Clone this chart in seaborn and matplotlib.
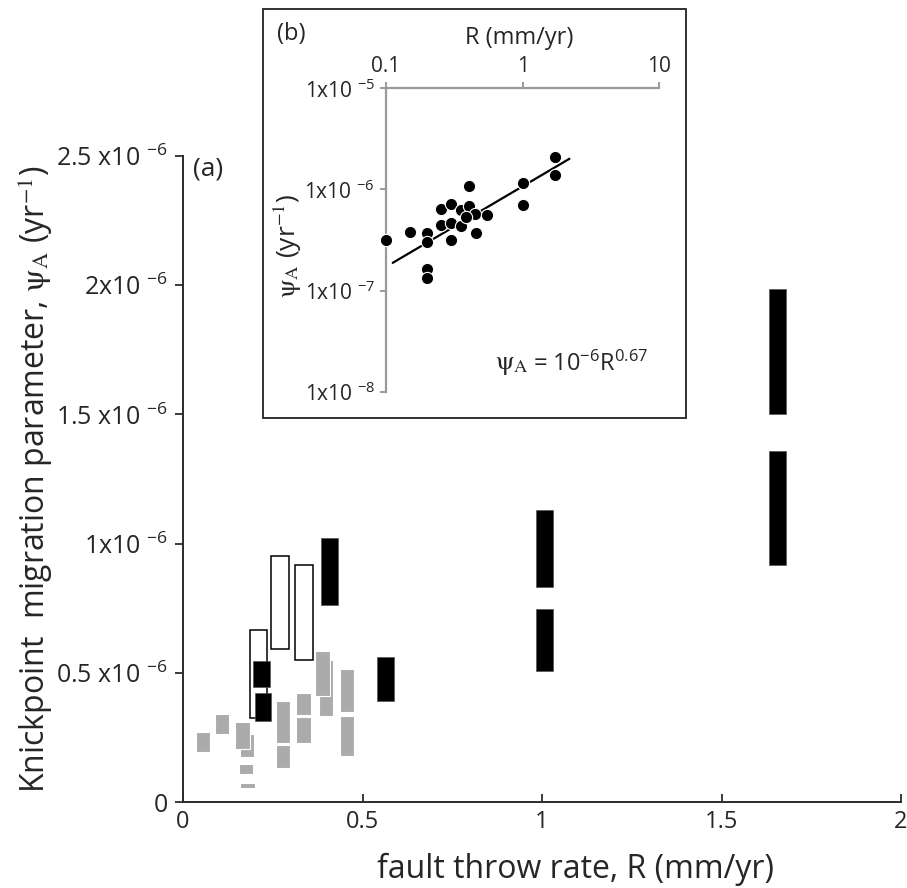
import matplotlib
matplotlib.use('Agg')
import numpy as np
import pandas as pd
import matplotlib.pyplot as plt
from matplotlib.patches import Rectangle
import seaborn as sns

# ---- data (main panel, psi_A in units of 1e-6 / yr) ----
gray_R = [0.056, 0.109, 0.178, 0.166, 0.176, 0.180, 0.279, 0.279, 0.336, 0.336, 0.399, 0.389, 0.457, 0.457]
gray_lo = [0.192, 0.262, 0.173, 0.205, 0.108, 0.053, 0.229, 0.130, 0.337, 0.229, 0.334, 0.411, 0.347, 0.177]
gray_hi = [0.272, 0.342, 0.264, 0.308, 0.148, 0.074, 0.391, 0.222, 0.423, 0.330, 0.550, 0.584, 0.515, 0.334]

open_R = [0.210, 0.270, 0.337]
open_lo = [0.324, 0.593, 0.550]
open_hi = [0.667, 0.951, 0.917]

black_R = [0.219, 0.223, 0.408, 0.565, 1.008, 1.008, 1.655, 1.655]
black_lo = [0.444, 0.315, 0.762, 0.391, 0.831, 0.506, 1.500, 0.916]
black_hi = [0.547, 0.422, 1.021, 0.561, 1.130, 0.746, 1.986, 1.357]

main_yticks = [0, 0.5e-6, 1e-6, 1.5e-6, 2e-6, 2.5e-6]
main_yticklabels = ['0', '0.5 x10 $^{-6}$', '1x10 $^{-6}$', '1.5 x10 $^{-6}$', '2x10 $^{-6}$', '2.5 x10 $^{-6}$']
main_xticks = [0, 0.5, 1, 1.5, 2]
main_xticklabels = ['0', '0.5', '1', '1.5', '2']

# ---- data (inset, log-log) ----
inset_R = [0.100, 0.150, 0.199, 0.199, 0.199, 0.199, 0.252, 0.252, 0.300, 0.300, 0.300,
           0.352, 0.352, 0.407, 0.407, 0.448, 0.458, 0.551, 1.0, 1.0, 1.73, 1.73, 0.384]
inset_psi = [3.17e-7, 3.78e-7, 3.69e-7, 3.0e-7, 1.64e-7, 1.33e-7, 6.44e-7, 4.4e-7, 7.2e-7, 4.64e-7, 3.13e-7,
             6.29e-7, 4.34e-7, 1.08e-6, 6.84e-7, 5.74e-7, 3.69e-7, 5.53e-7, 1.16e-6, 6.95e-7, 2.07e-6, 1.40e-6, 5.3e-7]
fit_R = [0.112, 2.2]
fit_psi = [1.88e-7, 2.01e-6]

inset_xticks = [0.1, 1, 10]
inset_xticklabels = ['0.1', '1', '10']
inset_yticks = [1e-8, 1e-7, 1e-6, 1e-5]
inset_yticklabels = ['1x10 $^{-8}$', '1x10 $^{-7}$', '1x10 $^{-6}$', '1x10 $^{-5}$']

# ---- style ----
sns.set_style('ticks')
plt.rcParams['font.family'] = ['Open Sans', 'DejaVu Sans']
plt.rcParams['mathtext.fontset'] = 'custom'
plt.rcParams['mathtext.rm'] = 'Open Sans'
plt.rcParams['mathtext.it'] = 'Open Sans:italic'
plt.rcParams['mathtext.bf'] = 'Open Sans:bold'
plt.rcParams['mathtext.sf'] = 'Open Sans'

GRAY = '#ababab'
AXC = '#2b2b2b'
INC = '#9a9a9a'
PSI = r'$\mathrm{\psi}_\mathrm{A}$'

fig = plt.figure(figsize=(9.07, 8.88), dpi=100)
ax = fig.add_axes([183 / 907, 1 - 802 / 888, 718 / 907, 646 / 888])

scale = 1e-6
for r, lo, hi in zip(gray_R, gray_lo, gray_hi):
    ax.bar(r, (hi - lo) * scale, bottom=lo * scale, width=0.040, color=GRAY,
           edgecolor='white', linewidth=0.8, zorder=2)
for r, lo, hi in zip(open_R, open_lo, open_hi):
    ax.bar(r, (hi - lo) * scale, bottom=lo * scale, width=0.049, color='white',
           edgecolor='black', linewidth=1.1, zorder=3)
for r, lo, hi in zip(black_R, black_lo, black_hi):
    ax.bar(r, (hi - lo) * scale, bottom=lo * scale, width=0.047, color='black',
           edgecolor='#555555', linewidth=0.5, zorder=4)

ax.set_xlim(0, 2)
ax.set_ylim(0, 2.5e-6)
sns.despine(ax=ax)
for s in ['left', 'bottom']:
    ax.spines[s].set_color(AXC)
    ax.spines[s].set_linewidth(1.4)
ax.set_yticks(main_yticks)
ax.set_yticklabels(main_yticklabels)
ax.set_xticks(main_xticks)
ax.set_xticklabels(main_xticklabels)
ax.tick_params(axis='y', direction='out', length=6, width=1.3, color=AXC, labelsize=18, pad=5)
ax.tick_params(axis='x', direction='in', length=6, width=1.3, color=AXC, labelsize=17, pad=6)
ax.minorticks_off()

ax.set_xlabel('fault throw rate, R (mm/yr)', fontsize=23)
ax.xaxis.set_label_coords(0.546, -0.078)
ax.set_ylabel('Knickpoint  migration parameter, ' + PSI + r' (yr$^{-1}$)',
              fontsize=23, math_fontfamily='stix')
ax.yaxis.set_label_coords(-0.178, 0.5)
ax.text(0.014, 0.98, '(a)', transform=ax.transAxes, fontsize=19, va='center', ha='left')

# ---- inset ----
fig.patches.append(Rectangle((263 / 907, 1 - 418 / 888), (686 - 263) / 907, (418 - 9) / 888,
                             transform=fig.transFigure, fill=True, facecolor='white',
                             edgecolor='#222222', linewidth=1.3, zorder=5))
ax_in = fig.add_axes([386 / 907, 1 - 391.7 / 888, 273.3 / 907, 303.4 / 888], zorder=10)
ax_in.patch.set_alpha(0)
ax_in.set_xscale('log')
ax_in.set_yscale('log')

sns.lineplot(x=fit_R, y=fit_psi, ax=ax_in, color='black', linewidth=1.6, zorder=3)
sns.scatterplot(x=inset_R, y=inset_psi, ax=ax_in, color='black', edgecolor='white',
                s=78, linewidth=0.8, zorder=4, clip_on=False)

ax_in.set_xlim(0.1, 10)
ax_in.set_ylim(1e-8, 1e-5)
for s in ['right', 'bottom']:
    ax_in.spines[s].set_visible(False)
for s in ['left', 'top']:
    ax_in.spines[s].set_color(INC)
    ax_in.spines[s].set_linewidth(1.6)
ax_in.xaxis.tick_top()
ax_in.set_xticks(inset_xticks)
ax_in.set_xticklabels(inset_xticklabels)
ax_in.set_yticks(inset_yticks)
ax_in.set_yticklabels(inset_yticklabels)
ax_in.minorticks_off()
ax_in.tick_params(axis='both', direction='out', length=4, width=1.4, color=INC, labelsize=15, pad=4)

ax_in.xaxis.set_label_position('top')
ax_in.set_xlabel('R (mm/yr)', fontsize=17)
ax_in.xaxis.set_label_coords(0.487, 1.145)
ax_in.set_ylabel(PSI + r' (yr$^{-1}$)', fontsize=19, math_fontfamily='stix')
ax_in.yaxis.set_label_coords(-0.30, 0.48)

fig.text(277 / 907, 1 - 34 / 888, '(b)', fontsize=17, va='center', ha='left', zorder=11)
fig.text(495 / 907, 1 - 364 / 888, PSI, fontsize=19, va='center', ha='left',
         math_fontfamily='stix', zorder=11)
fig.text(533 / 907, 1 - 364 / 888, r'= 10$^{-6}$R$^{0.67}$', fontsize=17, va='center', ha='left', zorder=11)

fig.savefig('out.png', dpi=100)
